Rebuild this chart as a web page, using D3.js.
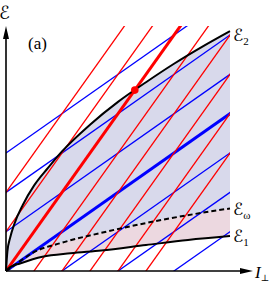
<!DOCTYPE html>
<html>
<head>
<meta charset="utf-8">
<script src="https://cdn.jsdelivr.net/npm/d3@7"></script>
<style>
  body { margin: 0; background: #fff; }
  svg { display: block; }
  .lbl { font-family: "DejaVu Serif", "DejaVu Sans", serif; }
  .times { font-family: "Liberation Serif", "Times New Roman", serif; }
</style>
</head>
<body>
<svg id="chart" width="274" height="283"></svg>
<script>
// line families: E = slope * I + offset
const redSlope = 1;
const redOffsets = [2, 1, 0, -1, -2, -3, -4, -5];
const blueSlope = 0.5;
const blueOffsets = [3, 2, 1, 0, -1, -2, -3];

// boundary curves
const e2I = [0, 0.05, 0.15, 0.3, 0.6, 1, 1.5, 2, 3, 4, 5, 6, 7, 8];
const e2 = [0, 0.5, 0.85, 1.2, 1.68, 2.17, 2.62, 3.04, 3.72, 4.3, 4.8, 5.27, 5.7, 6.1];
const eWI = [0, 0.5, 0.95, 2, 3.4, 5, 7, 8];
const eW = [0, 0.25, 0.46, 0.72, 0.97, 1.22, 1.48, 1.59];
const e1I = [0, 0.15, 0.5, 1.3, 2.3, 3.4, 5, 6.5, 8];
const e1 = [0, 0.1, 0.19, 0.36, 0.45, 0.52, 0.66, 0.79, 0.89];
const dot = [4.6, 4.6];

const svg = d3.select("#chart");
const xMax = 8, yMax = 6.23;
const x = d3.scaleLinear().domain([0, xMax]).range([6, 230]);
const y = d3.scaleLinear().domain([0, yMax]).range([271, 26]);

const pts = (I, E) => I.map((d, i) => [d, E[i]]);
const e2Pts = pts(e2I, e2), eWPts = pts(eWI, eW), e1Pts = pts(e1I, e1);

const line = d3.line().x(d => x(d[0])).y(d => y(d[1])).curve(d3.curveMonotoneX);

// shaded bands between two curves
const band = (lo, hi) => {
  const bot = lo.slice().reverse();
  return line(hi) + "L" + bot.map(d => x(d[0]) + "," + y(d[1])).join("L") + "Z";
};
svg.append("path").attr("d", band(eWPts, e2Pts)).attr("fill", "#d8d9eb");
svg.append("path").attr("d", band(e1Pts, eWPts)).attr("fill", "#ecd8e0");

svg.append("clipPath").attr("id", "box")
  .append("rect")
  .attr("x", x(0)).attr("y", y(yMax))
  .attr("width", x(xMax) - x(0)).attr("height", y(0) - y(yMax));

const fam = svg.append("g").attr("clip-path", "url(#box)");
const straight = (slope, c) => [[-1, slope * -1 + c], [xMax + 1, slope * (xMax + 1) + c]];
const flat = d3.line().x(d => x(d[0])).y(d => y(d[1]));

fam.selectAll(".blue").data(blueOffsets).join("path")
  .attr("class", "blue")
  .attr("d", c => flat(straight(blueSlope, c)))
  .attr("stroke", "#0000ff").attr("fill", "none")
  .attr("stroke-width", c => c === 0 ? 3 : 1.3);

fam.selectAll(".red").data(redOffsets).join("path")
  .attr("class", "red")
  .attr("d", c => flat(straight(redSlope, c)))
  .attr("stroke", "#ff0000").attr("fill", "none")
  .attr("stroke-width", c => c === 0 ? 3 : 1.3);

svg.append("path").attr("d", line(e2Pts)).attr("fill", "none")
  .attr("stroke", "#000").attr("stroke-width", 2);
svg.append("path").attr("d", line(eWPts)).attr("fill", "none")
  .attr("stroke", "#000").attr("stroke-width", 2).attr("stroke-dasharray", "5,3");
svg.append("path").attr("d", line(e1Pts)).attr("fill", "none")
  .attr("stroke", "#000").attr("stroke-width", 2);

svg.append("circle").attr("cx", x(dot[0])).attr("cy", y(dot[1])).attr("r", 3.8)
  .attr("fill", "#ff0000");

// axes with arrow heads
svg.append("line").attr("x1", x(0)).attr("y1", y(0)).attr("x2", x(0)).attr("y2", 34)
  .attr("stroke", "#000").attr("stroke-width", 1.6);
svg.append("path").attr("d", `M${x(0)},26 L${x(0) - 3},39 L${x(0) + 3},39 Z`).attr("fill", "#000");
svg.append("line").attr("x1", x(0)).attr("y1", y(0)).attr("x2", 246).attr("y2", y(0))
  .attr("stroke", "#000").attr("stroke-width", 1.6);
svg.append("path").attr("d", `M253,${y(0)} L240,${y(0) - 3} L240,${y(0) + 3} Z`).attr("fill", "#000");

// labels
svg.append("text").attr("class", "lbl").attr("x", -1).attr("y", 19)
  .attr("font-size", 18).text("ℰ");
svg.append("text").attr("class", "times").attr("x", 28).attr("y", 49)
  .attr("font-size", 17).text("(a)");

const sub = (tx, ty, main, s) => {
  const t = svg.append("text").attr("class", "lbl").attr("x", tx).attr("y", ty).attr("font-size", 17);
  t.append("tspan").text(main);
  t.append("tspan").attr("font-size", 11).attr("dy", 4).attr("class", "times").text(s);
};
sub(233, 41, "ℰ", "2");
sub(233, 215, "ℰ", "ω");
sub(233, 242, "ℰ", "1");

const il = svg.append("text").attr("class", "times").attr("x", 255).attr("y", 278).attr("font-size", 17);
il.append("tspan").attr("font-style", "italic").text("I");
il.append("tspan").attr("font-size", 9).attr("dy", 3).attr("class", "lbl").text("⊥");
</script>
</body>
</html>
